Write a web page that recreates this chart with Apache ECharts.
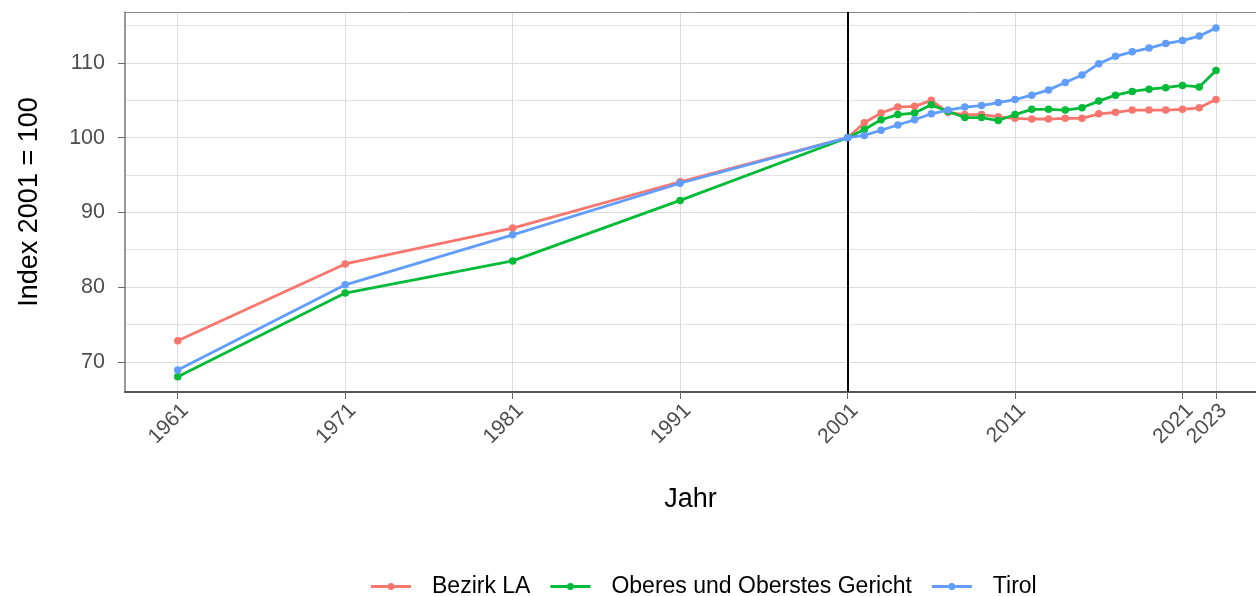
<!DOCTYPE html>
<html>
<head>
<meta charset="utf-8">
<script src="https://cdn.jsdelivr.net/npm/echarts@6/dist/echarts.min.js"></script>
<style>
html,body{margin:0;padding:0;background:#fff;}
#chart{width:1256px;height:596px;}
</style>
</head>
<body>
<div id="chart"></div>
<script>
const years = [1961,1971,1981,1991,2001,2002,2003,2004,2005,2006,2007,2008,2009,2010,2011,2012,2013,2014,2015,2016,2017,2018,2019,2020,2021,2022,2023];
const bezirkLA = [72.8,83.1,87.9,94.1,100,102.0,103.3,104.1,104.2,105.0,103.4,103.1,103.1,102.8,102.6,102.5,102.5,102.6,102.6,103.2,103.4,103.7,103.7,103.7,103.8,104.0,105.1];
const oberesGericht = [68.0,79.2,83.5,91.6,100,101.1,102.4,103.1,103.3,104.4,103.5,102.7,102.7,102.3,103.1,103.8,103.8,103.7,104.0,104.9,105.7,106.2,106.5,106.7,107.0,106.8,109.0];
const tirol = [68.9,80.3,87.0,93.9,100,100.3,101.0,101.7,102.4,103.2,103.7,104.1,104.3,104.7,105.1,105.7,106.4,107.4,108.4,109.9,110.9,111.5,112.0,112.6,113.0,113.6,114.7];
const xTicks = [1961,1971,1981,1991,2001,2011,2021,2023];
const yTicks = [70,80,90,100,110];
const refYear = 2001;
const seriesNames = ['Bezirk LA','Oberes und Oberstes Gericht','Tirol'];
const colors = ['#F8766D','#00BA38','#619CFF'];

const pairs = arr => years.map((y,i)=>[y,arr[i]]);
const chart = echarts.init(document.getElementById('chart'));
const font = 'Liberation Sans, Arial, sans-serif';
const legendIcon = 'path://M0,2.6L16.5,2.6L16.5,5.4L0,5.4Z M23.5,2.6L40,2.6L40,5.4L23.5,5.4Z M16.5,4A3.5,3.5 0 1,0 23.5,4A3.5,3.5 0 1,0 16.5,4Z';
const mk = (name, arr, color, z, extra) => Object.assign({
  name, type:'line', data: pairs(arr), color,
  symbol:'circle', symbolSize:7.5, showSymbol:true,
  lineStyle:{width:2.8, color}, itemStyle:{color},
  z, animation:false
}, extra||{});

const xMin = 1957.85, xMax = 2025.39;
chart.setOption({
  animation:false,
  textStyle:{fontFamily:font},
  grid:{left:125, top:12, right:0, bottom:204, show:false, containLabel:false},
  xAxis:[{
    type:'value', min:xMin, max:xMax,
    axisLine:{show:true, onZero:false, lineStyle:{color:'#555', width:2}},
    axisTick:{show:true, length:7, customValues:xTicks, lineStyle:{color:'#666', width:1}},
    axisLabel:{customValues:xTicks, rotate:45, margin:8, verticalAlign:'top', fontSize:21, color:'#4d4d4d', fontFamily:font,
      formatter: v => String(v)},
    splitLine:{show:true, lineStyle:{color:'#dcdcdc', width:1}},
    name:'Jahr', nameLocation:'middle', nameGap:94,
    nameTextStyle:{fontSize:27, color:'#000', fontFamily:font}
  },{
    type:'value', min:xMin, max:xMax, position:'top',
    axisLine:{show:true, onZero:false, lineStyle:{color:'#8c8c8c', width:1}},
    axisTick:{show:false}, axisLabel:{show:false}, splitLine:{show:false}
  }],
  yAxis:{
    type:'value', min:65.95, max:116.83,
    axisLine:{show:true, onZero:false, lineStyle:{color:'#777', width:1.5}},
    axisTick:{show:true, length:7, customValues:yTicks, lineStyle:{color:'#666', width:1}},
    axisLabel:{customValues:yTicks, margin:20, fontSize:21.5, color:'#4d4d4d', fontFamily:font},
    splitLine:{show:true, lineStyle:{color:'#dcdcdc', width:1}},
    minorTick:{show:false, splitNumber:2},
    minorSplitLine:{show:true, lineStyle:{color:'#e3e3e3', width:1}},
    name:'Index 2001 = 100', nameLocation:'middle', nameGap:82,
    nameTextStyle:{fontSize:27, color:'#000', fontFamily:font}
  },
  legend:{
    data:seriesNames.map(n=>({name:n, icon:legendIcon})), top:570, left:366, orient:'horizontal',
    itemWidth:40, itemHeight:7, itemGap:20,
    textStyle:{fontSize:23, color:'#000', fontFamily:font, padding:[0,0,0,16]}
  },
  series:[
    mk(seriesNames[0], bezirkLA, colors[0], 3),
    mk(seriesNames[1], oberesGericht, colors[1], 4),
    mk(seriesNames[2], tirol, colors[2], 5, {
      markLine:{silent:true, symbol:'none', label:{show:false},
        lineStyle:{color:'#000', width:2, type:'solid'},
        data:[{xAxis:refYear}], animation:false}
    })
  ]
});
</script>
</body>
</html>
